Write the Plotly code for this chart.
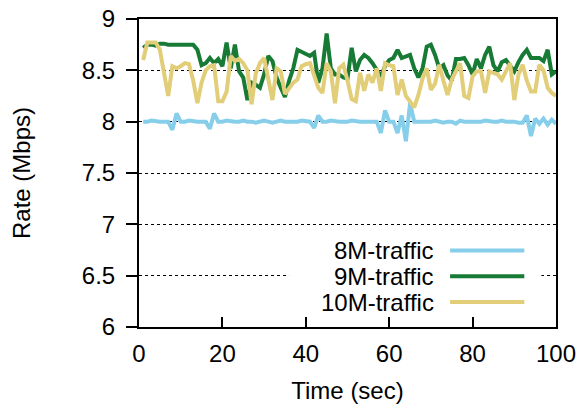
import plotly.graph_objects as go

# ---------------- data ----------------
time_sec = list(range(1, 101))

rate_8m = [8.00, 8.00, 8.01, 8.00, 8.00, 8.00, 8.00, 7.92, 8.08, 8.00,
           8.00, 8.01, 8.00, 8.00, 8.00, 8.00, 7.93, 8.08, 8.00, 8.00,
           8.01, 8.00, 8.00, 8.00, 8.01, 8.00, 8.00, 7.99, 8.00, 8.01,
           8.00, 7.99, 8.00, 8.01, 8.00, 8.00, 8.00, 8.00, 8.01, 8.00,
           8.00, 7.94, 8.06, 8.00, 8.00, 8.01, 8.00, 8.00, 8.00, 8.00,
           8.01, 8.00, 8.00, 8.00, 8.00, 8.00, 8.00, 7.89, 8.11, 8.00,
           8.00, 7.89, 8.06, 7.81, 8.18, 8.00, 8.00, 8.00, 8.00, 8.00,
           8.01, 8.00, 7.99, 8.00, 8.00, 7.98, 8.01, 8.00, 8.00, 8.00,
           8.00, 8.00, 8.01, 8.00, 8.00, 8.00, 8.01, 8.00, 8.00, 8.00,
           7.99, 7.99, 8.06, 7.86, 8.03, 7.98, 8.03, 7.97, 8.02, 7.98]

rate_9m = [8.72, 8.75, 8.75, 8.74, 8.76, 8.76, 8.75, 8.75, 8.75, 8.75,
           8.75, 8.75, 8.75, 8.70, 8.55, 8.57, 8.62, 8.57, 8.61, 8.54,
           8.77, 8.52, 8.75, 8.49, 8.43, 8.21, 8.38, 8.36, 8.33, 8.46,
           8.64, 8.59, 8.43, 8.33, 8.24, 8.40, 8.52, 8.70, 8.68, 8.67,
           8.64, 8.67, 8.38, 8.52, 8.86, 8.52, 8.46, 8.46, 8.43, 8.42,
           8.72, 8.49, 8.60, 8.65, 8.62, 8.57, 8.51, 8.44, 8.54, 8.60,
           8.62, 8.70, 8.62, 8.64, 8.65, 8.52, 8.43, 8.52, 8.73, 8.75,
           8.65, 8.52, 8.55, 8.45, 8.40, 8.61, 8.61, 8.62, 8.55, 8.46,
           8.61, 8.52, 8.65, 8.73, 8.55, 8.49, 8.58, 8.60, 8.55, 8.49,
           8.58, 8.65, 8.70, 8.62, 8.62, 8.62, 8.59, 8.70, 8.46, 8.49]

rate_10m = [8.60, 8.77, 8.77, 8.77, 8.70, 8.45, 8.25, 8.54, 8.52, 8.54,
            8.57, 8.56, 8.40, 8.18, 8.38, 8.50, 8.54, 8.55, 8.20, 8.20,
            8.29, 8.64, 8.59, 8.61, 8.57, 8.50, 8.17, 8.47, 8.57, 8.62,
            8.40, 8.21, 8.52, 8.49, 8.27, 8.33, 8.38, 8.41, 8.54, 8.56,
            8.57, 8.45, 8.33, 8.28, 8.57, 8.49, 8.18, 8.52, 8.555, 8.40,
            8.22, 8.20, 8.475, 8.30, 8.46, 8.38, 8.52, 8.30, 8.57, 8.55,
            8.54, 8.26, 8.41, 8.25, 8.20, 8.14, 8.26, 8.42, 8.52, 8.31,
            8.37, 8.555, 8.40, 8.26, 8.41, 8.50, 8.57, 8.25, 8.23, 8.44,
            8.49, 8.49, 8.28, 8.49, 8.48, 8.46, 8.41, 8.50, 8.57, 8.21,
            8.46, 8.555, 8.40, 8.295, 8.295, 8.555, 8.50, 8.33, 8.28, 8.25]

series_names = ["8M-traffic", "9M-traffic", "10M-traffic"]
series_values = [rate_8m, rate_9m, rate_10m]

x_tick_vals = [0, 20, 40, 60, 80, 100]
x_tick_text = ["0", "20", "40", "60", "80", "100"]
y_tick_vals = [6, 6.5, 7, 7.5, 8, 8.5, 9]
y_tick_text = ["6", "6.5", "7", "7.5", "8", "8.5", "9"]

# ---------------- style ----------------
colors = ["#87ceeb", "#177a35", "#e2cd78"]
FONT = "Liberation Sans, Arial, Helvetica, sans-serif"
FS = 24

fig = go.Figure()
for name, vals, col in zip(series_names, series_values, colors):
    fig.add_trace(go.Scatter(x=time_sec, y=vals, mode="lines", name=name,
                             line=dict(color=col, width=4),
                             showlegend=False))

# custom legend (text left of the line sample, as in the reference)
leg_box = dict(x0=36.0, x1=96.5, y0=6.12, y1=6.86)
fig.add_shape(type="rect", xref="x", yref="y", layer="above",
              fillcolor="white", line=dict(width=0), **leg_box)
leg_rows_y = [6.745, 6.495, 6.243]
for name, col, yy in zip(series_names, colors, leg_rows_y):
    fig.add_shape(type="line", xref="x", yref="y", layer="above",
                  x0=74.6, x1=92.4, y0=yy, y1=yy,
                  line=dict(color=col, width=4))
    fig.add_annotation(x=71.2, y=yy, xref="x", yref="y", text=name,
                       showarrow=False, xanchor="right", yanchor="middle",
                       font=dict(family=FONT, size=FS, color="black"))

# the page places the figure 8px in from the top-left corner
fig.update_layout(
    width=576, height=401,
    margin=dict(l=131, r=28, t=11, b=82, autoexpand=False),
    paper_bgcolor="white", plot_bgcolor="white",
    font=dict(family=FONT, size=FS, color="black"),
)
fig.update_xaxes(
    range=[0, 100], tickvals=x_tick_vals, ticktext=x_tick_text,
    ticks="inside", ticklen=10, tickwidth=1.5, tickcolor="black",
    showline=True, linecolor="black", linewidth=2, mirror=True,
    showgrid=False, zeroline=False, automargin=False,
    ticklabeloverflow="allow",
    title=dict(text="Time (sec)", font=dict(family=FONT, size=FS), standoff=16),
    ticklabelstandoff=4,
)
fig.update_yaxes(
    range=[6, 9], tickvals=y_tick_vals, ticktext=y_tick_text,
    ticks="outside", ticklen=11, tickwidth=1.5, tickcolor="black",
    showline=True, linecolor="black", linewidth=2, mirror=True,
    showgrid=True, gridcolor="black", griddash="dot", gridwidth=1,
    zeroline=False, automargin=False,
    ticklabeloverflow="allow",
    title=dict(text="Rate (Mbps)", font=dict(family=FONT, size=FS), standoff=53),
    ticklabelstandoff=6,
)

fig.write_html("out.html")
